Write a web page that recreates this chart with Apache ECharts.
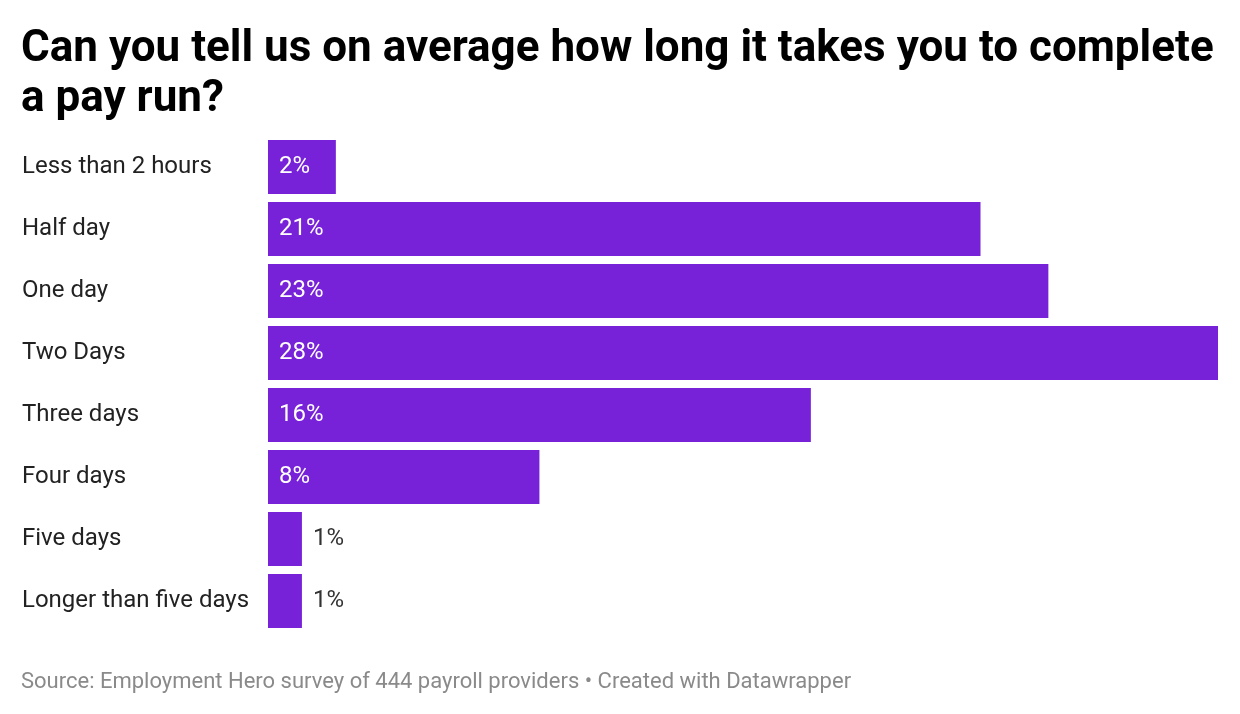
<!DOCTYPE html>
<html><head><meta charset="utf-8">
<script src="https://cdn.jsdelivr.net/npm/echarts@6/dist/echarts.min.js"></script>
<style>html,body{margin:0;padding:0;background:#fff}#c{width:1240px;height:714px}</style>
</head><body><div id="c"></div>
<script>
const categories = ["Less than 2 hours","Half day","One day","Two Days","Three days","Four days","Five days","Longer than five days"];
const values = [2,21,23,28,16,8,1,1];
const insideThreshold = 2;

const chart = echarts.init(document.getElementById('c'));
const data = values.map(v => ({
  value: v,
  label: v >= insideThreshold
    ? {position: 'insideLeft', distance: 11, color: '#ffffff'}
    : {position: 'right', distance: 11, color: '#333333'}
}));
chart.setOption({
  animation: false,
  title: [
    {text: 'Can you tell us on average how long it takes you to complete\na pay run?', left: 21, top: 25, padding: 0,
     textStyle: {fontFamily: 'Roboto', fontWeight: 'bold', fontSize: 44, lineHeight: 50, color: '#000'}},
    {text: 'Source: Employment Hero survey of 444 payroll providers • Created with Datawrapper', left: 21, top: 671, padding: 0,
     textStyle: {fontFamily: 'Roboto', fontWeight: 'normal', fontSize: 22, color: '#8a8a8a'}}
  ],
  grid: {left: 268, right: 22, top: 136, bottom: 82, containLabel: false},
  xAxis: {type: 'value', min: 0, max: 28, show: false},
  yAxis: {type: 'category', data: categories, inverse: true,
    axisLine: {show: false}, axisTick: {show: false}, splitLine: {show: false},
    axisLabel: {align: 'left', margin: 246, fontFamily: 'Roboto', fontSize: 24, color: '#222', padding: [2, 0, 0, 0]}},
  series: [{type: 'bar', data: data, barCategoryGap: '12.9%', itemStyle: {color: '#7722d9'},
    label: {show: true, formatter: '{c}%', fontFamily: 'Roboto', fontSize: 24, padding: [2, 0, 0, 0]}}]
});
</script></body></html>
